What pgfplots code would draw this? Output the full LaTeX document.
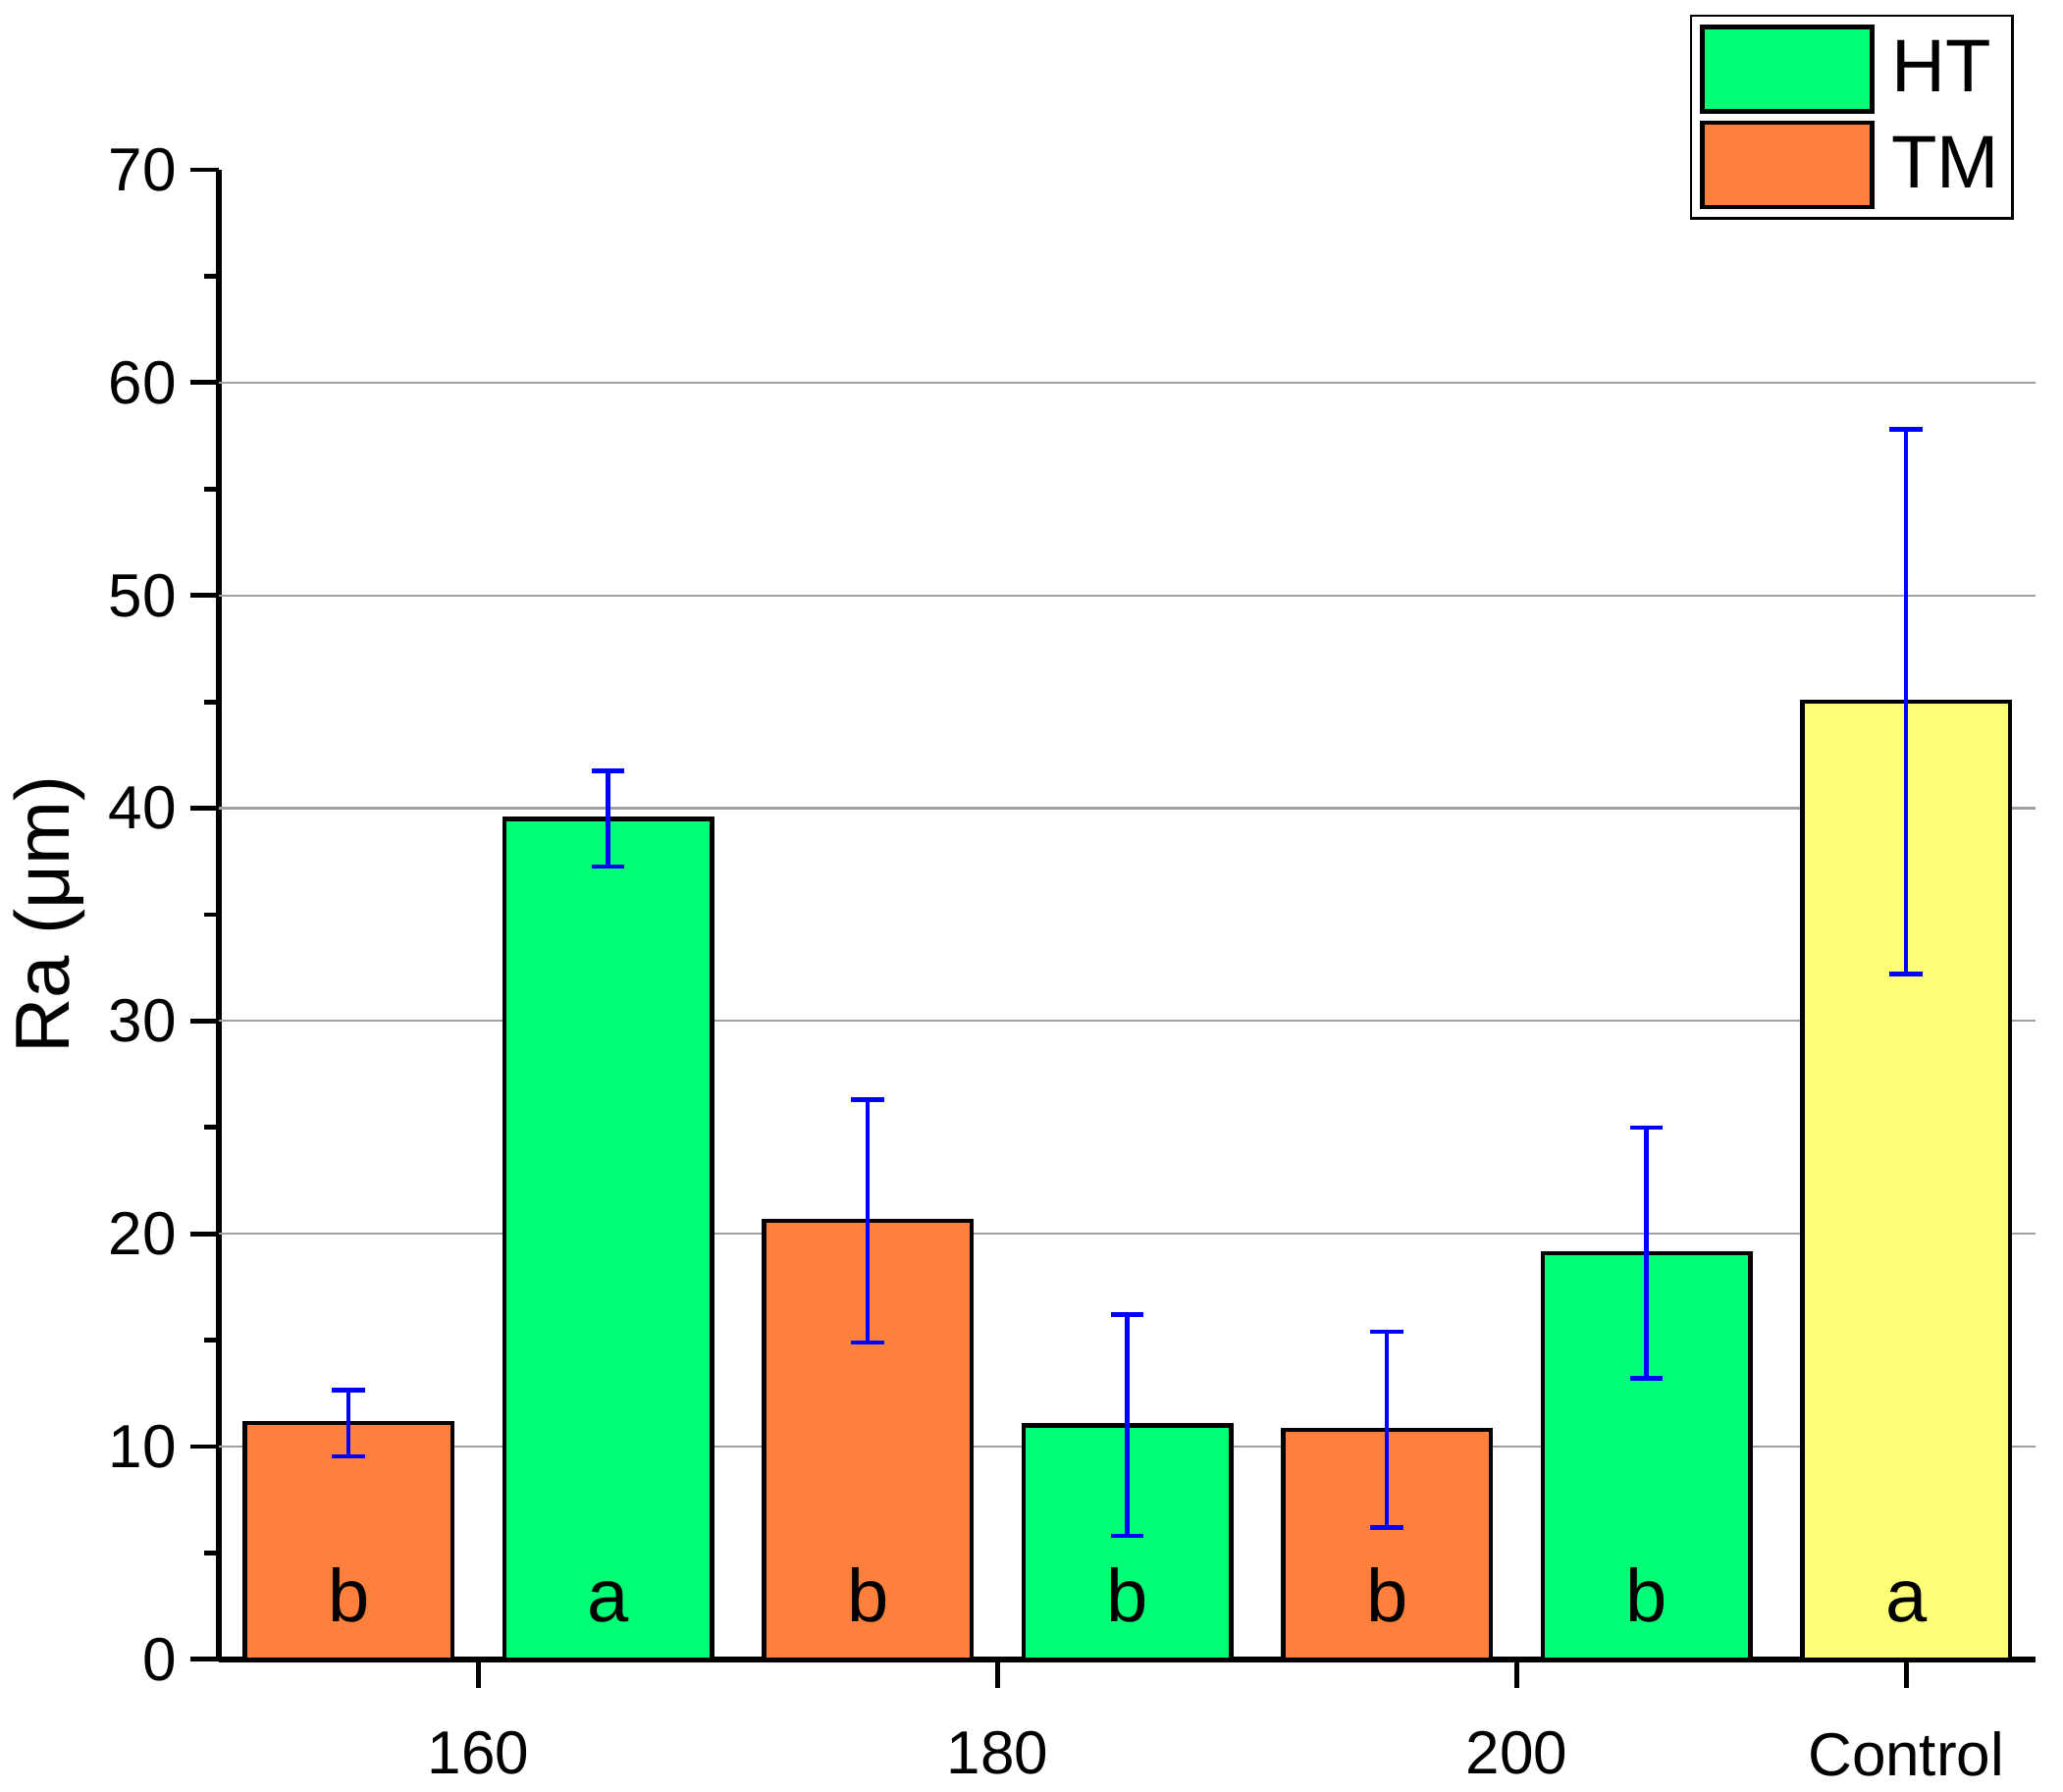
\documentclass[border=0pt]{standalone}
\usepackage{fontspec}
\setmainfont{Liberation Sans}
\usepackage{pgfplots}
\pgfplotsset{compat=1.18}

\definecolor{htgreen}{RGB}{0,255,119}
\definecolor{tmorange}{RGB}{255,128,60}
\definecolor{ctrlyellow}{RGB}{255,255,119}
\definecolor{gridgray}{RGB}{160,160,160}

\pgfplotsset{
    errbar/.style={
        error bars/y dir=both, error bars/y explicit,
        error bars/error bar style={blue, line width=1.1pt},
        error bars/error mark options={rotate=90, blue, mark size=4.2pt, line width=1.1pt},
    },
}
\tikzset{letter/.style={font=\fontsize{19}{19}\selectfont, anchor=base}}

\begin{document}
\begin{tikzpicture}
\begin{axis}[
    scale only axis,
    width=462.9pt, height=379.5pt,
    xmin=-0.5, xmax=6.5,
    ymin=0, ymax=70,
    clip=false,
    ybar, bar width=0.8, bar shift=0pt,
    axis x line*=bottom, axis y line*=left,
    axis line style={line width=1.4pt},
    tick align=outside,
    major tick length=7.3pt, minor tick length=3.75pt,
    tick style={line width=1.2pt, black},
    xtick={0.5,2.5,4.5,6},
    xticklabels={160,180,200,Control},
    ytick={0,10,...,70},
    minor y tick num=1,
    extra y ticks={10,20,...,60},
    extra y tick labels={},
    extra y tick style={grid=major, major tick length=0pt},
    grid style={gridgray, line width=0.55pt},
    /pgf/number format/assume math mode=true,
    ticklabel style={font=\fontsize{15.5}{15.5}\selectfont},
    xticklabel style={yshift=-7.5pt},
    ylabel={Ra (μm)},
    ylabel style={at={(axis description cs:-0.093,0.5)}, anchor=center,
        font=\fontsize{19.5}{19.5}\selectfont},
    legend image code/.code={
        \draw[#1, line width=1.1pt] (0pt,-10.75pt) rectangle (43.2pt,10.75pt);},
    legend style={at={(0.9877,1.1041)}, anchor=north east,
        draw=black, line width=0.6pt, inner sep=2.3pt, row sep=1.75pt,
        font=\fontsize{19}{19}\selectfont,
        nodes={inner sep=1pt, anchor=west},
        /tikz/every odd column/.append style={column sep=3.5pt}},
]
% HT
\addplot[fill=htgreen, draw=black, line width=1.1pt, errbar]
    coordinates {(1,39.5) +- (0,2.25) (3,11.0) +- (0,5.2) (5,19.1) +- (0,5.9)};
\addlegendentry{HT}
% TM
\addplot[fill=tmorange, draw=black, line width=1.1pt, errbar]
    coordinates {(0,11.1) +- (0,1.55) (2,20.6) +- (0,5.7) (4,10.8) +- (0,4.6)};
\addlegendentry{TM}
% Control
\addplot[fill=ctrlyellow, draw=black, line width=1.1pt, errbar, forget plot]
    coordinates {(6,45.0) +- (0,12.8)};

% letters of significance
\node[letter] at (axis cs:0,1.75) {b};
\node[letter] at (axis cs:1,1.75) {a};
\node[letter] at (axis cs:2,1.75) {b};
\node[letter] at (axis cs:3,1.75) {b};
\node[letter] at (axis cs:4,1.75) {b};
\node[letter] at (axis cs:5,1.75) {b};
\node[letter] at (axis cs:6,1.75) {a};

% page frame
\path (rel axis cs:-0.1204,-0.0889) rectangle (rel axis cs:1.0149,1.1140);
\end{axis}
\end{tikzpicture}
\end{document}
